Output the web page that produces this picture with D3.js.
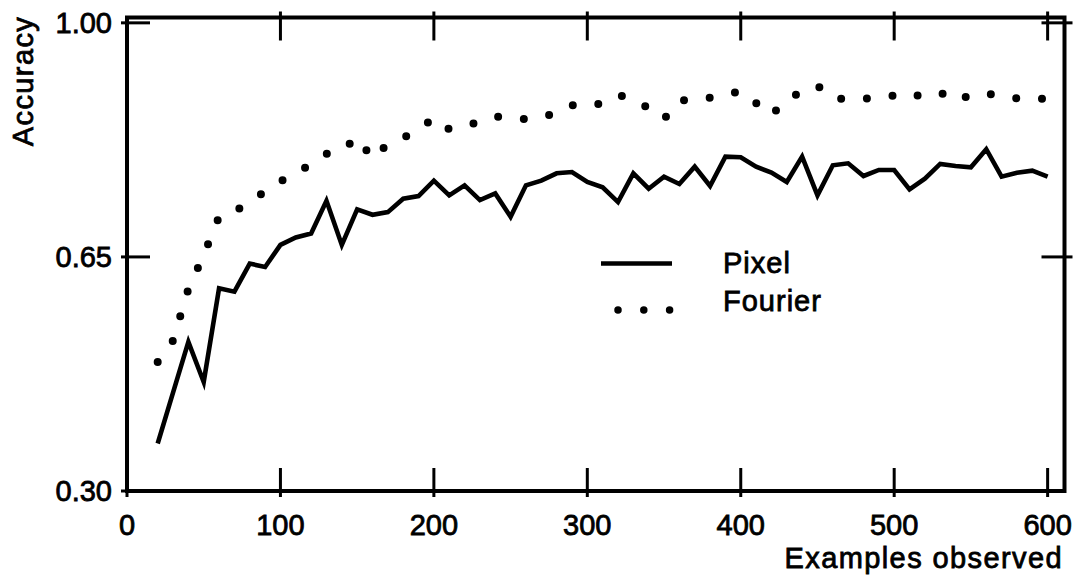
<!DOCTYPE html>
<html>
<head>
<meta charset="utf-8">
<script src="https://cdn.jsdelivr.net/npm/d3@7"></script>
<style>
  html, body { margin: 0; padding: 0; background: #fff; }
  svg { display: block; }
  text { font-family: "Liberation Sans", Arial, Helvetica, sans-serif; fill: #000; stroke: #000; stroke-width: 0.8px; }
</style>
</head>
<body>
<svg id="chart" width="1075" height="575"></svg>
<script>
// ---- data ----
const examples = [20,30,40,50,60,70,80,90,100,110,120,130,140,150,160,170,180,190,200,210,
  220,230,240,250,260,270,280,290,300,310,320,330,340,350,360,370,380,390,400,410,
  420,430,440,450,460,470,480,490,500,510,520,530,540,550,560,570,580,590,600];

const pixelAcc = [0.371,0.447,0.523,0.463,0.603,0.598,0.640,0.635,0.668,0.679,
  0.685,0.734,0.668,0.721,0.713,0.717,0.737,0.741,0.764,0.742,
  0.757,0.735,0.745,0.710,0.757,0.764,0.775,0.777,0.762,0.754,
  0.732,0.775,0.752,0.770,0.759,0.785,0.756,0.800,0.799,0.785,
  0.776,0.762,0.800,0.742,0.787,0.790,0.771,0.780,0.780,0.751,
  0.767,0.789,0.786,0.784,0.811,0.770,0.776,0.779,0.770];

const fourierAcc = [0.493,0.525,0.602,0.653,0.710,0.718,0.732,0.748,0.763,0.775,
  0.789,0.804,0.809,0.829,0.797,0.819,0.828,0.840,0.858,0.841,
  0.846,0.852,0.860,0.858,0.856,0.858,0.866,0.877,0.875,0.880,
  0.892,0.886,0.872,0.856,0.884,0.885,0.888,0.892,0.898,0.880,
  0.862,0.886,0.897,0.906,0.887,0.886,0.886,0.890,0.891,0.887,
  0.895,0.896,0.883,0.892,0.895,0.889,0.887,0.886,0.887];

const xTicks = [0,100,200,300,400,500,600];
const yTicks = [0.30,0.65,1.00];
const yTickLabels = ["0.30","0.65","1.00"];
const seriesNames = ["Pixel","Fourier"];
const xTitle = "Examples observed";
const yTitle = "Accuracy";

// ---- layout ----
const svg = d3.select("#chart");
const x = d3.scaleLinear().domain([0, 611]).range([127, 1064.5]);
const y = d3.scaleLinear().domain([0.30, 1.008]).range([491, 17.5]);
const [xL, xR] = x.range();
const [yB, yT] = y.range();

const tickIn = 23, tickOut = 6;

// frame
svg.append("rect")
  .attr("x", xL).attr("y", yT)
  .attr("width", xR - xL).attr("height", yB - yT)
  .attr("fill", "none").attr("stroke", "#000").attr("stroke-width", 4);

// ticks
const tickG = svg.append("g").attr("stroke", "#000").attr("stroke-width", 3);
tickG.selectAll(".tb").data(xTicks).join("line")
  .attr("x1", d => x(d)).attr("x2", d => x(d))
  .attr("y1", yB + tickOut).attr("y2", yB - tickIn);
tickG.selectAll(".tt").data(xTicks.filter(d => d > 0)).join("line")
  .attr("x1", d => x(d)).attr("x2", d => x(d))
  .attr("y1", yT - tickOut).attr("y2", yT + tickIn);
tickG.selectAll(".tl").data(yTicks).join("line")
  .attr("x1", xL - tickOut).attr("x2", xL + tickIn)
  .attr("y1", d => y(d)).attr("y2", d => y(d));
tickG.selectAll(".tr").data(yTicks.filter(d => d > 0.3)).join("line")
  .attr("x1", xR + tickOut + 2).attr("x2", xR - tickIn)
  .attr("y1", d => y(d)).attr("y2", d => y(d));

// tick labels
svg.selectAll(".xl").data(xTicks).join("text")
  .attr("x", d => x(d)).attr("y", 535)
  .attr("text-anchor", "middle")
  .attr("font-size", 29)
  .text(d => d);
svg.selectAll(".yl").data(yTicks).join("text")
  .attr("x", 112).attr("y", d => y(d))
  .attr("dy", "0.35em")
  .attr("text-anchor", "end")
  .attr("font-size", 29)
  .text((d, i) => yTickLabels[i]);

// axis titles
svg.append("text")
  .attr("x", 1063).attr("y", 568)
  .attr("text-anchor", "end")
  .attr("font-size", 29)
  .attr("letter-spacing", 1.4)
  .text(xTitle);
svg.append("text")
  .attr("transform", "translate(33,81) rotate(-90)")
  .attr("text-anchor", "middle")
  .attr("font-size", 29)
  .attr("letter-spacing", 1.4)
  .text(yTitle);

// series
const line = d3.line().x(d => x(d[0])).y(d => y(d[1]));
const pixelPts = examples.map((e, i) => [e, pixelAcc[i]]);
const fourierPts = examples.map((e, i) => [e, fourierAcc[i]]);

svg.append("path")
  .attr("d", line(pixelPts))
  .attr("fill", "none").attr("stroke", "#000")
  .attr("stroke-width", 4.6).attr("stroke-linejoin", "miter").attr("stroke-miterlimit", 6);

svg.append("path")
  .attr("d", line(fourierPts))
  .attr("fill", "none").attr("stroke", "#000")
  .attr("stroke-width", 8).attr("stroke-linecap", "round")
  .attr("stroke-dasharray", "0 25.8");

// legend
const lg = svg.append("g");
lg.append("line")
  .attr("x1", 601).attr("x2", 672).attr("y1", 263.5).attr("y2", 263.5)
  .attr("stroke", "#000").attr("stroke-width", 4.6);
lg.append("line")
  .attr("x1", 618).attr("x2", 670).attr("y1", 310).attr("y2", 310)
  .attr("stroke", "#000").attr("stroke-width", 7.5)
  .attr("stroke-linecap", "round").attr("stroke-dasharray", "0 25.8");
lg.append("text").attr("x", 723).attr("y", 273).attr("font-size", 29).attr("letter-spacing", 1).text(seriesNames[0]);
lg.append("text").attr("x", 723).attr("y", 311).attr("font-size", 29).attr("letter-spacing", 1).text(seriesNames[1]);
</script>
</body>
</html>
